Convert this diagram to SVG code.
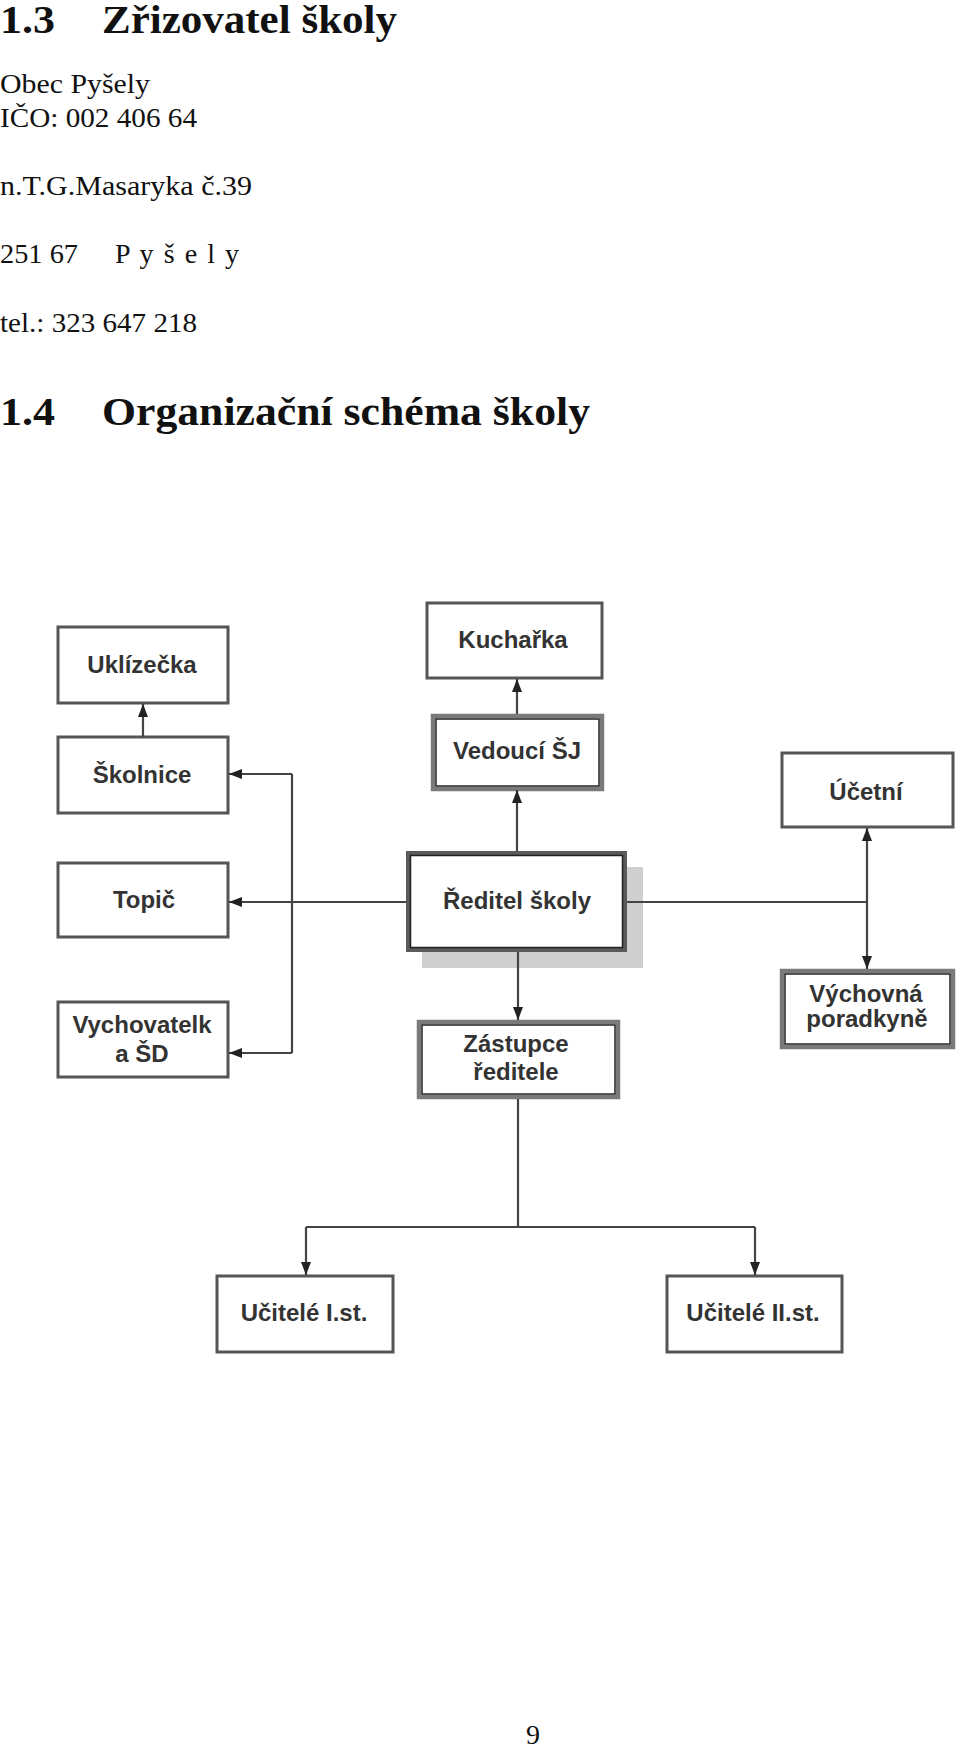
<svg xmlns="http://www.w3.org/2000/svg" width="960" height="1747" viewBox="0 0 960 1747">
<style>
.h{font-family:"Liberation Serif","DejaVu Serif",serif;font-weight:bold;font-size:39px;fill:#111}
.t{font-family:"Liberation Serif","DejaVu Serif",serif;font-size:28px;fill:#111}
.lbl{font-family:"Liberation Sans",Arial,sans-serif;font-weight:bold;font-size:24px;fill:#333;text-anchor:middle}
.box{fill:#fff;stroke:#555;stroke-width:3}
.dbo{fill:#fff;stroke:#7a7a7a;stroke-width:4.5}
.dbi{fill:none;stroke:#222;stroke-width:1.5}
.con{fill:none;stroke:#444;stroke-width:2.2}
</style>
<defs>
<marker id="ah" markerUnits="userSpaceOnUse" markerWidth="13" markerHeight="10" refX="13" refY="5" orient="auto">
<path d="M0,0 L13,5 L0,10 Z" fill="#222"/>
</marker>
</defs>
<rect width="960" height="1747" fill="#fff"/>
<g id="text">
<text class="h" x="0" y="33" font-size="35" textLength="55" lengthAdjust="spacingAndGlyphs">1.3</text>
<text class="h" x="102" y="33" font-size="35" textLength="295" lengthAdjust="spacingAndGlyphs">Zřizovatel školy</text>
<text class="t" x="0" y="93" textLength="150" lengthAdjust="spacingAndGlyphs">Obec Pyšely</text>
<text class="t" x="0" y="127" textLength="197" lengthAdjust="spacingAndGlyphs">IČO: 002 406 64</text>
<text class="t" x="0" y="195" textLength="252" lengthAdjust="spacingAndGlyphs">n.T.G.Masaryka č.39</text>
<text class="t" x="0" y="263" textLength="78" lengthAdjust="spacingAndGlyphs">251 67</text>
<text class="t" x="115" y="263" textLength="124">P y š e l y</text>
<text class="t" x="0" y="332" textLength="197" lengthAdjust="spacingAndGlyphs">tel.: 323 647 218</text>
<text class="h" x="0" y="425" textLength="55" lengthAdjust="spacingAndGlyphs">1.4</text>
<text class="h" x="102" y="425" textLength="488" lengthAdjust="spacingAndGlyphs">Organizační schéma školy</text>
<text class="t" x="533" y="1744" text-anchor="middle">9</text>
</g>
<g id="n-uklizecka"><rect class="box" x="58" y="627" width="170" height="76"/><text class="lbl" x="142" y="673">Uklízečka</text></g>
<g id="n-skolnice"><rect class="box" x="58" y="737" width="170" height="76"/><text class="lbl" x="142" y="783">Školnice</text></g>
<g id="n-topic"><rect class="box" x="58" y="863" width="170" height="74"/><text class="lbl" x="144" y="908">Topič</text></g>
<g id="n-vychovatelka"><rect class="box" x="58" y="1002" width="170" height="75"/><text class="lbl" x="142" y="1033">Vychovatelk</text><text class="lbl" x="142" y="1062">a ŠD</text></g>
<g id="n-kucharka"><rect class="box" x="427" y="603" width="175" height="75"/><text class="lbl" x="513" y="648">Kuchařka</text></g>
<g id="n-vedouci"><rect class="dbo" x="433" y="716" width="169" height="73"/><rect class="dbi" x="436" y="719" width="163" height="67"/><text class="lbl" x="517" y="759">Vedoucí ŠJ</text></g>
<g id="n-reditel"><rect x="422" y="867" width="221" height="101" fill="#cfcfcf"/><rect fill="#fff" stroke="#5a5a5a" stroke-width="4" x="408" y="853" width="217" height="97"/><rect class="dbi" x="410.5" y="855.5" width="212" height="92"/><text class="lbl" x="517" y="909">Ředitel školy</text></g>
<g id="n-zastupce"><rect class="dbo" x="419" y="1022" width="199" height="75"/><rect class="dbi" x="422" y="1025" width="193" height="69"/><text class="lbl" x="516" y="1052">Zástupce</text><text class="lbl" x="516" y="1080">ředitele</text></g>
<g id="n-ucetni"><rect class="box" x="782" y="753" width="171" height="74"/><text class="lbl" x="866" y="800">Účetní</text></g>
<g id="n-vychovna"><rect class="dbo" x="782" y="971" width="171" height="76"/><rect class="dbi" x="785" y="974" width="165" height="70"/><text class="lbl" x="866" y="1002">Výchovná</text><text class="lbl" x="867" y="1027">poradkyně</text></g>
<g id="n-ucitele1"><rect class="box" x="217" y="1276" width="176" height="76"/><text class="lbl" x="304" y="1321">Učitelé I.st.</text></g>
<g id="n-ucitele2"><rect class="box" x="667" y="1276" width="175" height="76"/><text class="lbl" x="753" y="1321">Učitelé II.st.</text></g>
<g id="connectors">
<path class="con" d="M143,737 V704" marker-end="url(#ah)"/>
<path class="con" d="M517,851 V790" marker-end="url(#ah)"/>
<path class="con" d="M517,714 V679" marker-end="url(#ah)"/>
<path class="con" d="M406,902 H229" marker-end="url(#ah)"/>
<path class="con" d="M292,1053 V774"/>
<path class="con" d="M292,774 H229" marker-end="url(#ah)"/>
<path class="con" d="M292,1053 H229" marker-end="url(#ah)"/>
<path class="con" d="M627,902 H867"/>
<path class="con" d="M867,902 V828" marker-end="url(#ah)"/>
<path class="con" d="M867,902 V969" marker-end="url(#ah)"/>
<path class="con" d="M518,952 V1020" marker-end="url(#ah)"/>
<path class="con" d="M518,1099 V1227"/>
<path class="con" d="M306,1227 H755"/>
<path class="con" d="M306,1227 V1275" marker-end="url(#ah)"/>
<path class="con" d="M755,1227 V1275" marker-end="url(#ah)"/>
</g>
</svg>
